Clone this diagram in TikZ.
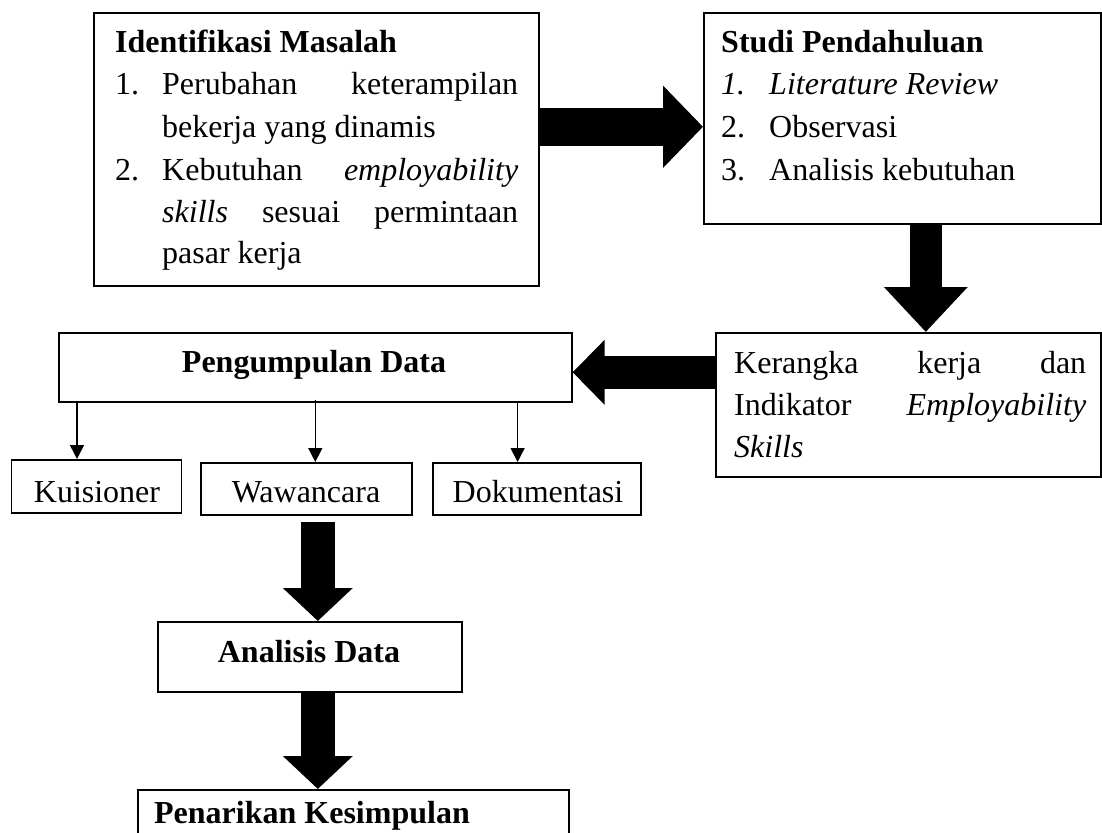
\documentclass[tikz,border=0pt]{standalone}
\usepackage{fontspec}
\setmainfont{Liberation Serif}
\usetikzlibrary{arrows.meta}
\tikzset{
  every node/.style={font=\fontsize{32}{42}\selectfont},
  box/.style={draw=black, line width=1.6pt, fill=white, anchor=north west, inner sep=0pt},
  txt/.style={anchor=base west, inner sep=0pt},
  ctxt/.style={anchor=base, inner sep=0pt},
  fatH/.style={line width=38pt, -{Triangle[length=40pt,width=80pt]}},
  fatL/.style={line width=33pt, -{Triangle[length=32pt,width=63pt]}},
  fatD/.style={line width=32pt, -{Triangle[length=45pt,width=81pt]}},
  fatS/.style={line width=34pt, -{Triangle[length=33pt,width=68pt]}},
  thin/.style={line width=1.5pt, -{Triangle[length=14pt,width=14pt]}},
}
\begin{document}
\begin{tikzpicture}[x=1pt,y=-1pt]
\useasboundingbox (0,0) rectangle (1102,832);
\clip (0,0) rectangle (1102,832);
\fill[white] (0,0) rectangle (1102,832);

% boxes
\node[box, minimum width=445pt, minimum height=273pt] (ident) at (93,12) {};
\node[box, minimum width=397pt, minimum height=211pt] (studi) at (703,12) {};
\node[box, minimum width=385pt, minimum height=144pt] (kerangka) at (715,332) {};
\node[box, minimum width=513pt, minimum height=69pt] (peng) at (58,332) {};
\node[box, minimum width=170pt, minimum height=53pt] (kuis) at (10.5,459) {};
\node[box, minimum width=211pt, minimum height=52pt] (wawan) at (200,462) {};
\node[box, minimum width=208pt, minimum height=52pt] (doku) at (432,462) {};
\node[box, minimum width=304pt, minimum height=70pt] (anal) at (157,621) {};
\node[box, minimum width=431pt, minimum height=100pt] (penar) at (137,789) {};

% texts: Identifikasi Masalah
\node[txt] (t1) at (115,53) {\textbf{Identifikasi Masalah}};
\node[txt] (t1a) at (115,95) {1.};
\node[txt] (t1b) at (162,95) {\hbox to 356pt{Perubahan\hfill keterampilan}};
\node[txt] (t1c) at (162,137) {bekerja yang dinamis};
\node[txt] (t1d) at (115,180) {2.};
\node[txt] (t1e) at (162,180) {\hbox to 356pt{Kebutuhan\hfill \textit{employability}}};
\node[txt] (t1f) at (162,222) {\hbox to 356pt{\textit{skills}\hfill sesuai\hfill permintaan}};
\node[txt] (t1g) at (162,263) {pasar kerja};

% Studi Pendahuluan
\node[txt] (t2) at (721,53) {\textbf{Studi Pendahuluan}};
\node[txt] (t2a) at (721,95) {\textit{1.}};
\node[txt] (t2b) at (769,95) {\textit{Literature Review}};
\node[txt] (t2c) at (721,137) {2.};
\node[txt] (t2d) at (769,137) {Observasi};
\node[txt] (t2e) at (721,180) {3.};
\node[txt] (t2f) at (769,180) {Analisis kebutuhan};

% Kerangka
\node[txt] (t3a) at (734,373) {\hbox to 352pt{Kerangka\hfill kerja\hfill dan}};
\node[txt] (t3b) at (734,415) {\hbox to 352pt{Indikator\hfill \textit{Employability}}};
\node[txt] (t3c) at (734,457) {\textit{Skills}};

% others
\node[ctxt] (t4) at (314,372) {\textbf{Pengumpulan Data}};
\node[ctxt] (t5) at (97,502) {Kuisioner};
\node[ctxt] (t6) at (306,502) {Wawancara};
\node[ctxt] (t7) at (538,502) {Dokumentasi};
\node[ctxt] (t8) at (309,662) {\textbf{Analisis Data}};
\node[ctxt] (t9) at (312,823) {\textbf{Penarikan Kesimpulan}};

% fat arrows
\draw[fatH] ([yshift=22.5pt]ident.east) -- ([yshift=22.5pt]ident.east -| studi.west);
\draw[fatD] ([xshift=23.5pt]studi.south) -- ([xshift=23.5pt]studi.south |- kerangka.north);
\draw[fatL] ([yshift=32.5pt]kerangka.west) -- ([yshift=32.5pt]kerangka.west -| peng.east);
\draw[fatS] ([xshift=11.5pt,yshift=-6pt]wawan.south) -- ([xshift=11.5pt]wawan.south |- anal.north);
\draw[fatS] ([xshift=8pt]anal.south) -- ([xshift=8pt]anal.south |- penar.north);

% thin arrows
\draw[thin] ([xshift=19pt]peng.south west) -- ([xshift=19pt]peng.south west |- kuis.north);
\draw[thin] ([yshift=3pt]peng.south) -- (peng.south |- wawan.north);
\draw[thin] ([xshift=-55pt]peng.south east) -- ([xshift=-55pt]peng.south east |- doku.north);
\end{tikzpicture}
\end{document}
